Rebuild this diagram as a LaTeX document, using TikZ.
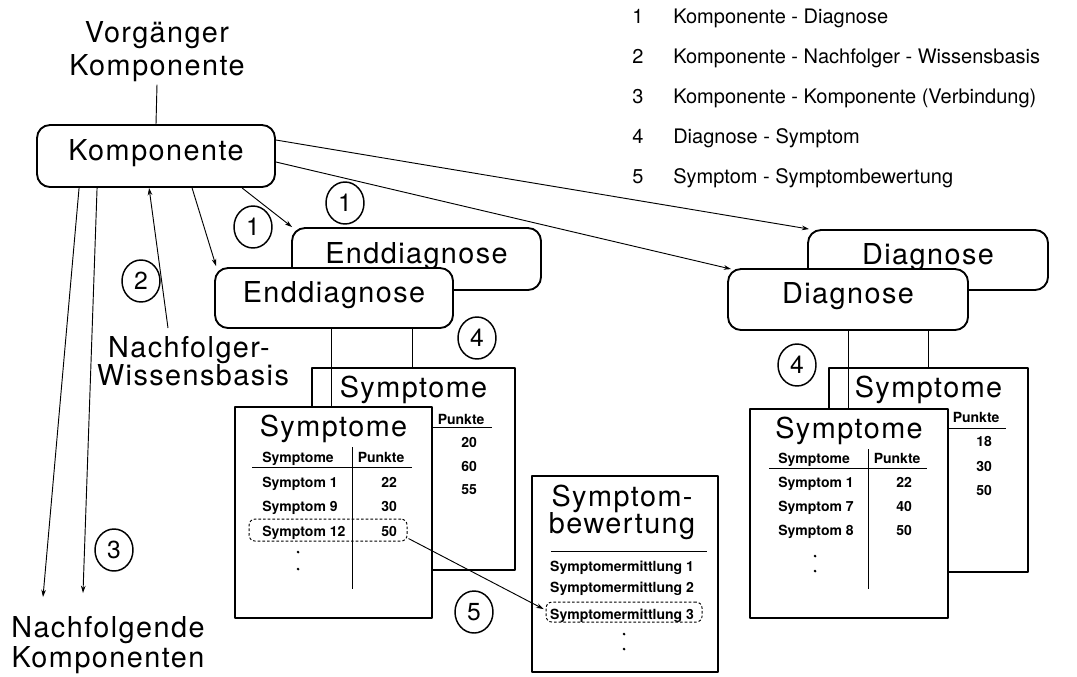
\documentclass[tikz,border=0pt]{standalone}
\usepackage{fontspec}
\setmainfont{TeX Gyre Heros}
\newfontfamily\widefam[LetterSpace=5]{TeX Gyre Heros}
\usetikzlibrary{calc,arrows.meta,shapes.geometric}
\begin{document}
\begin{tikzpicture}[x=0.75pt,y=-0.75pt,line join=round,
  big/.style={font=\widefam\fontsize{21.6}{26}\selectfont, inner sep=0pt},
  lbl/.style={big, anchor=base},
  leg/.style={font=\fontsize{15}{18}\selectfont, inner sep=0pt, anchor=base},
  sm/.style={font=\fontsize{10.5}{12}\selectfont\bfseries, inner sep=0pt, anchor=base},
  rbox/.style={draw, line width=1.4pt, rounded corners=9.75pt, fill=white, big,
    text height=16pt, text depth=10pt},
  sbox/.style={draw, line width=1.4pt, fill=white, inner sep=0pt},
  circnum/.style={draw, ellipse, line width=1.1pt, minimum width=28.5pt, minimum height=31.5pt,
    inner sep=0pt, font=\fontsize{18.5}{20}\selectfont, text height=13pt, text depth=0pt},
  hl/.style={draw, dash pattern=on 2pt off 1.5pt, line width=0.7pt, rounded corners=4.5pt, inner sep=0pt},
  conn/.style={line width=0.7pt},
  arr/.style={conn, -{Stealth[length=5.5pt,width=3.5pt]}},
]
\useasboundingbox (0,0) rectangle (1077,676);

% legend of relation numbers
\foreach \n/\t [count=\i from 0] in {1/Komponente - Diagnose, 2/Komponente - Nachfolger - Wissensbasis, 3/Komponente - Komponente (Verbindung), 4/Diagnose - Symptom, 5/Symptom - Symptombewertung}{
  \pgfmathsetmacro\yy{23.5+40.1*\i}
  \node[leg] (legn\n) at (638,\yy) {\n};
  \node[leg, anchor=base west] (legt\n) at (673,\yy) {\t};
}

% free labels
\node[lbl] (vorg1) at (157,42) {Vorgänger};
\node[lbl] (vorg2) at (157,75) {Komponente};
\node[lbl] (nach1) at (189,357) {Nachfolger-};
\node[lbl] (nach2) at (193,385) {Wissensbasis};
\node[lbl] (nk1) at (108,637) {Nachfolgende};
\node[lbl] (nk2) at (108,667) {Komponenten};

% component and diagnosis boxes
\node[rbox, minimum width=178.5pt, minimum height=46.5pt] (komp) at (156,156) {Komponente};
\node[rbox, minimum width=186.75pt, minimum height=46.5pt] (endB) at (416.5,259) {Enddiagnose};
\node[rbox, minimum width=178.5pt, minimum height=45pt] (endF) at (334,298) {Enddiagnose};
\node[rbox, minimum width=180pt, minimum height=45pt] (diaB) at (928,260) {Diagnose};
\node[rbox, minimum width=180pt, minimum height=45.75pt] (diaF) at (848,299.5) {Diagnose};

% connectors from the component
\draw[conn] ($(vorg2.south)+(0,3)$) -- (komp.north);
\coordinate (tipA) at (43,597);
\coordinate (tipB) at (83,593);
\coordinate (wb) at (168,328);
\draw[arr] ($(komp.south west)+(43,0)$) -- (tipA);
\draw[arr] ($(komp.south west)+(61,0)$) -- (tipB);
\draw[arr] (wb) -- ($(komp.south west)+(113,0)$);
\draw[arr] ($(komp.south west)+(156,0)$) -- ($(endF.north west)+(2,-1)$);
\draw[arr] ($(komp.south west)+(206,0)$) -- ($(endB.north west)+(1,0)$);
\draw[arr] ($(komp.east)+(0,-16)$) -- ($(diaB.north west)+(2,0)$);
\draw[arr] ($(komp.east)+(0,6)$) -- ($(diaF.north west)+(4,1)$);

% ---- left symptom tables
\node[sbox, minimum width=152.25pt, minimum height=151.5pt] (symLB) at (413.5,469) {};
\node[lbl] (tLB) at ($(symLB.north)+(0,30)$) {Symptome};
\begin{scope}[shift={(symLB.north west)}]
  \node[sm] (pLB) at (150,57) {Punkte};
  \draw[conn] (100,60) -- (181,60);
  \node[sm] (vLB1) at (158,80) {20};
  \node[sm] (vLB2) at (158,104) {60};
  \node[sm] (vLB3) at (158,127) {55};
\end{scope}
\coordinate (el1) at ($(endF.south)+(-3,0)$);
\coordinate (el2) at ($(endF.south)+(78,0)$);
\draw[conn] (el2) -- (el2 |- symLB.north);
\node[sbox, minimum width=147.75pt, minimum height=158.25pt] (symLF) at (333.5,512.5) {};
\draw[conn] (el1) -- (el1 |- symLF.north);
\node[lbl] (tLF) at ($(symLF.north)+(0,30)$) {Symptome};
\begin{scope}[shift={(symLF.north west)}]
  \node[sm, anchor=base west] (hLF1) at (28,56) {Symptome};
  \node[sm] (hLF2) at (147,56) {Punkte};
  \draw[conn] (18,61) -- (178,61);
  \draw[conn] (118,41) -- (118,183);
  \node[sm, anchor=base west] (rLF1) at (28,81) {Symptom 1};
  \node[sm] (nLF1) at (155,81) {22};
  \node[sm, anchor=base west] (rLF2) at (28,105) {Symptom 9};
  \node[sm] (nLF2) at (155,105) {30};
  \node[sm, anchor=base west] (rLF3) at (28,130) {Symptom 12};
  \node[sm] (nLF3) at (155,130) {50};
  \fill (64,146) circle (1.1pt) (64,163) circle (1.1pt);
  \node[hl, minimum width=118.5pt, minimum height=16.5pt] (s12) at (94,124) {};
\end{scope}

% ---- right symptom tables
\node[sbox, minimum width=149.25pt, minimum height=153pt] (symRB) at (928.5,470) {};
\node[lbl] (tRB) at ($(symRB.north)+(0,30)$) {Symptome};
\begin{scope}[shift={(symRB.north west)}]
  \node[sm] (pRB) at (148,55) {Punkte};
  \draw[conn] (100,61) -- (178,61);
  \node[sm] (vRB1) at (156,79) {18};
  \node[sm] (vRB2) at (156,104) {30};
  \node[sm] (vRB3) at (156,128) {50};
\end{scope}
\coordinate (er1) at (diaF.south);
\coordinate (er2) at ($(diaF.south)+(80,0)$);
\draw[conn] (er2) -- (er2 |- symRB.north);
\node[sbox, minimum width=148.5pt, minimum height=156.75pt] (symRF) at (849,513.5) {};
\draw[conn] (er1) -- (er1 |- symRF.north);
\node[lbl] (tRF) at ($(symRF.north)+(0,30)$) {Symptome};
\begin{scope}[shift={(symRF.north west)}]
  \node[sm, anchor=base west] (hRF1) at (29,55) {Symptome};
  \node[sm] (hRF2) at (148,55) {Punkte};
  \draw[conn] (20,60) -- (178,60);
  \draw[conn] (119,41) -- (119,181);
  \node[sm, anchor=base west] (rRF1) at (29,79) {Symptom 1};
  \node[sm] (nRF1) at (155,79) {22};
  \node[sm, anchor=base west] (rRF2) at (29,103) {Symptom 7};
  \node[sm] (nRF2) at (155,103) {40};
  \node[sm, anchor=base west] (rRF3) at (29,127) {Symptom 8};
  \node[sm] (nRF3) at (155,127) {50};
  \fill (66,148) circle (1.1pt) (66,163) circle (1.1pt);
\end{scope}

% ---- symptom evaluation
\node[sbox, minimum width=139.5pt, minimum height=147pt] (bew) at (625,574) {};
\begin{scope}[shift={(bew.north west)}]
  \node[lbl] (tB1) at (91,31) {Symptom-};
  \node[lbl] (tB2) at (91,58) {bewertung};
  \draw[conn] (20,76) -- (176,76);
  \node[sm] (m1) at (91,96) {Symptomermittlung 1};
  \node[sm] (m2) at (91,117) {Symptomermittlung 2};
  \node[sm] (m3) at (91,144) {Symptomermittlung 3};
  \node[hl, minimum width=117pt, minimum height=15pt] (sm3) at (93,137) {};
  \fill (93,159) circle (1.1pt) (93,174) circle (1.1pt);
\end{scope}

\draw[arr] ($(s12.south east)+(1,-3)$) -- ($(sm3.west)+(-2,-3)$);

% relation numbers
\node[circnum] (c1a) at (253,227) {1};
\node[circnum] (c1b) at (345,203) {1};
\node[circnum] (c2) at (141,281) {2};
\node[circnum] (c3) at (114,550) {3};
\node[circnum] (c4a) at (477,338) {4};
\node[circnum] (c4b) at (797,365) {4};
\node[circnum] (c5) at (474,612) {5};
\end{tikzpicture}
\end{document}
